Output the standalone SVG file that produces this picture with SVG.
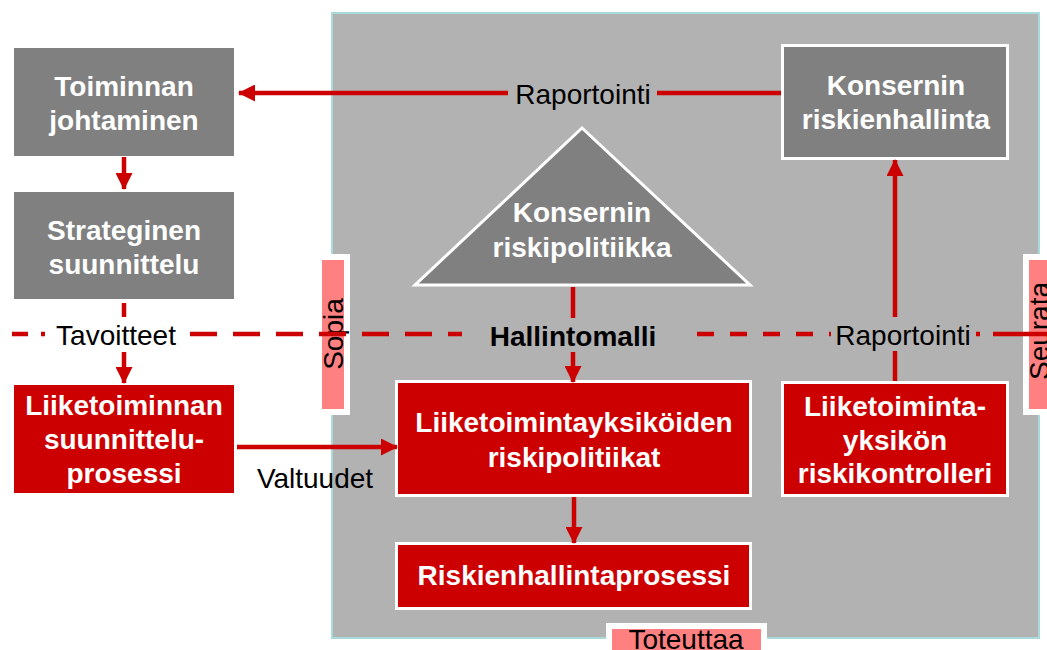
<svg xmlns="http://www.w3.org/2000/svg" width="1047" height="650" viewBox="0 0 1047 650">
<style>
.t{font-family:"Liberation Sans",Arial,sans-serif;font-size:28px;fill:#000;text-anchor:middle}
.b{font-family:"Liberation Sans",Arial,sans-serif;font-size:28px;font-weight:bold;fill:#fff;text-anchor:middle}
.hb{font-weight:bold;fill:#000}
.gray{fill:#808080}
.red{fill:#CC0000}
.wb{stroke:#fff;stroke-width:3}
.pink{fill:#FF8080;stroke:#fff;stroke-width:6}
.ln{stroke:#CC0000;stroke-width:4.5;fill:none}
</style>
<defs>
<marker id="ah" markerUnits="userSpaceOnUse" markerWidth="17" markerHeight="17" refX="16" refY="8.5" orient="auto">
<path d="M0,0 L17,8.5 L0,17 z" fill="#CC0000"/>
</marker>
</defs>
<rect width="1047" height="650" fill="#fff"/>
<g id="panel">
<rect x="332" y="13" width="707" height="625" fill="#B2B2B2" stroke="#A9DADC" stroke-width="2"/>
</g>
<g id="sopia">
<rect class="pink" x="319" y="257" width="28" height="155"/>
<text class="t" transform="translate(343,334) rotate(-90)">Sopia</text>
</g>
<g id="seurata">
<rect class="pink" x="1026" y="257" width="30" height="155"/>
<text class="t" transform="translate(1049,331) rotate(-90)">Seurata</text>
</g>
<g id="toteuttaa">
<rect class="pink" x="609" y="626" width="155" height="30"/>
<text class="t" x="686" y="649">Toteuttaa</text>
</g>
<g id="toiminnan">
<rect class="gray" x="14" y="48" width="220" height="108"/>
<text class="b" x="124" y="96">Toiminnan</text>
<text class="b" x="124" y="130">johtaminen</text>
</g>
<g id="strateginen">
<rect class="gray" x="14" y="192" width="220" height="107"/>
<text class="b" x="124" y="240">Strateginen</text>
<text class="b" x="124" y="274">suunnittelu</text>
</g>
<g id="liiketoiminnan">
<rect class="red" x="14" y="385" width="220" height="108"/>
<text class="b" x="124" y="415">Liiketoiminnan</text>
<text class="b" x="124" y="449">suunnittelu-</text>
<text class="b" x="124" y="483">prosessi</text>
</g>
<g id="konsernin-riskienhallinta">
<rect class="gray wb" x="782.5" y="45.5" width="225" height="113"/>
<text class="b" x="896" y="95">Konsernin</text>
<text class="b" x="896" y="129">riskienhallinta</text>
</g>
<g id="konsernin-riskipolitiikka">
<polygon class="gray wb" points="582,128 415,285 750,285"/>
<text class="b" x="582" y="222">Konsernin</text>
<text class="b" x="582" y="257">riskipolitiikka</text>
</g>
<g id="liiketoimintayksikoiden">
<rect class="red wb" x="396.5" y="381.5" width="354" height="114"/>
<text class="b" x="574" y="432">Liiketoimintayksiköiden</text>
<text class="b" x="574" y="467">riskipolitiikat</text>
</g>
<g id="riskienhallintaprosessi">
<rect class="red wb" x="396.5" y="543.5" width="354" height="65"/>
<text class="b" x="574" y="585">Riskienhallintaprosessi</text>
</g>
<g id="riskikontrolleri">
<rect class="red wb" x="782.5" y="382.5" width="225" height="113"/>
<text class="b" x="895" y="416">Liiketoiminta-</text>
<text class="b" x="895" y="450">yksikön</text>
<text class="b" x="895" y="483">riskikontrolleri</text>
</g>
<g id="connectors">
<path class="ln" d="M12,334 H45" stroke-dasharray="16 13"/>
<path class="ln" d="M190,334 H462" stroke-dasharray="27 16"/>
<path class="ln" d="M697,334 H831" stroke-dasharray="17 16"/>
<path class="ln" d="M976,334 H980 M993,334 H1047"/>
<path class="ln" d="M781,93 H657"/>
<path class="ln" d="M508,93 H239" marker-end="url(#ah)"/>
<path class="ln" d="M124,157 V189" marker-end="url(#ah)"/>
<path class="ln" d="M124,303 V317"/>
<path class="ln" d="M124,352 V383" marker-end="url(#ah)"/>
<path class="ln" d="M237,447 V447 H397" marker-end="url(#ah)"/>
<path class="ln" d="M573,287 V318"/>
<path class="ln" d="M573,352 V382" marker-end="url(#ah)"/>
<path class="ln" d="M574,497 V543" marker-end="url(#ah)"/>
<path class="ln" d="M895,381 V351"/>
<path class="ln" d="M895,317 V160" marker-end="url(#ah)"/>
<text class="t" x="583" y="104">Raportointi</text>
<text class="t" x="116" y="345">Tavoitteet</text>
<text class="t hb" x="573" y="346">Hallintomalli</text>
<text class="t" x="903" y="345">Raportointi</text>
<text class="t" x="315" y="488">Valtuudet</text>
</g>
</svg>
